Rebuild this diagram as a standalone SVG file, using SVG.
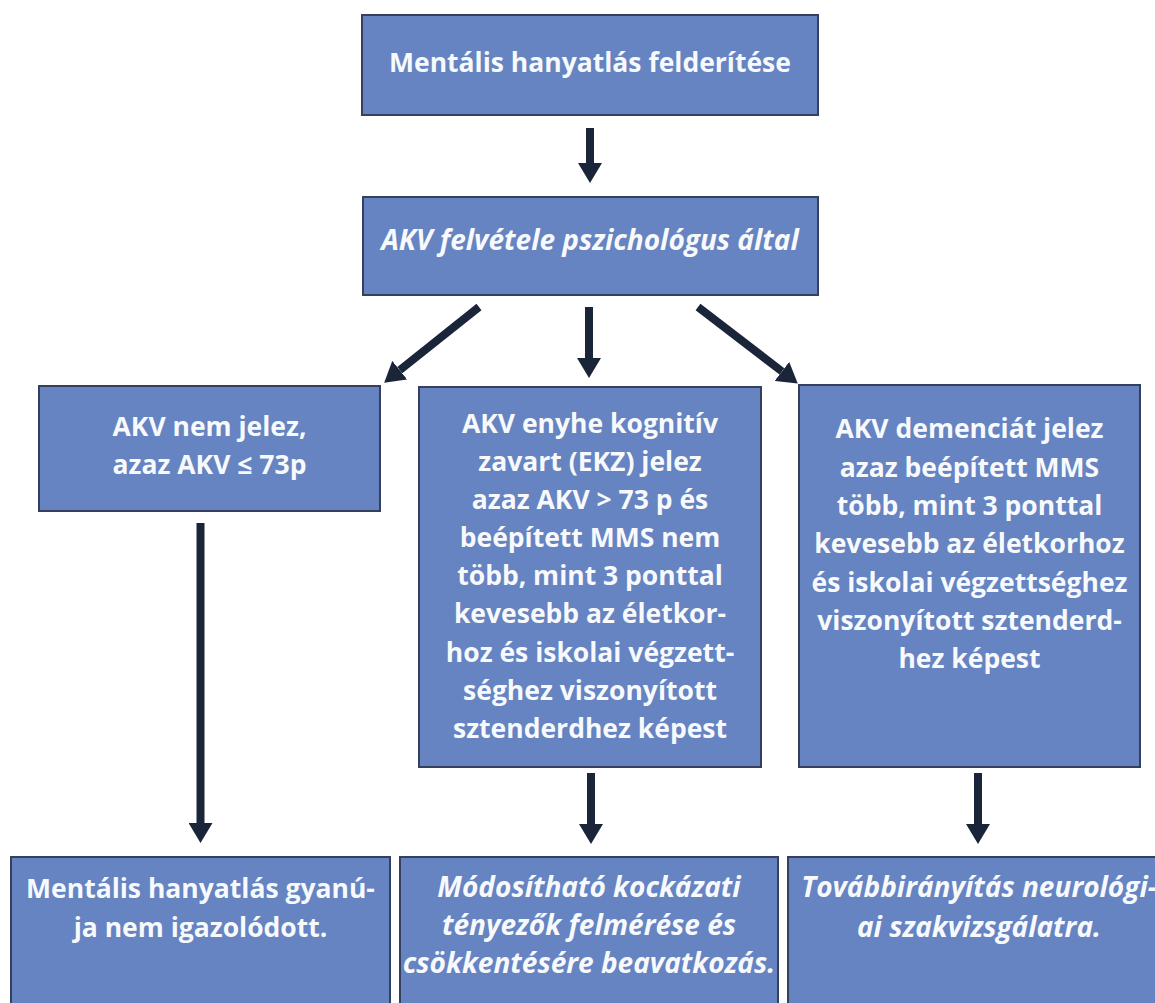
<svg xmlns="http://www.w3.org/2000/svg" width="1155" height="1003" viewBox="0 0 1155 1003">
  <defs>
    <style>
      .box { fill: #6584c1; stroke: #34405c; stroke-width: 2; }
      .lbl { font-family: "Open Sans", "Noto Sans", "Liberation Sans", sans-serif; font-weight: 700; font-size: 26.5px; fill: #f7f9fc; text-anchor: middle; }
      .it { font-style: italic; font-size: 28px; }
      .arr { stroke: #1b2539; stroke-width: 8; fill: none; marker-end: url(#head); }
    </style>
    <marker id="head" markerUnits="userSpaceOnUse" viewBox="0 -12 20 24" markerWidth="20" markerHeight="24" refX="0" refY="0" orient="auto">
      <path d="M0,-12 L20,0 L0,12 Z" fill="#1b2539"/>
    </marker>
  </defs>

  <rect width="1155" height="1003" fill="#ffffff"/>

  <g id="connectors">
    <line class="arr" x1="590" y1="128" x2="590" y2="163"/>
    <line class="arr" x1="479" y1="307" x2="399.8" y2="370.2"/>
    <line class="arr" x1="589" y1="307" x2="589" y2="358"/>
    <line class="arr" x1="698" y1="307" x2="781.9" y2="371.4"/>
    <line class="arr" x1="200.5" y1="523" x2="200.5" y2="823"/>
    <line class="arr" x1="591" y1="773" x2="591" y2="824"/>
    <line class="arr" x1="978" y1="773" x2="978" y2="824"/>
  </g>

  <g id="start">
    <rect class="box" x="362" y="15" width="456" height="100"/>
    <text class="lbl" x="590" y="72">Mentális hanyatlás felderítése</text>
  </g>

  <g id="akv">
    <rect class="box" x="363" y="197" width="455" height="98"/>
    <text class="lbl it" x="590" y="250">AKV felvétele pszichológus által</text>
  </g>

  <g id="normal">
    <rect class="box" x="39" y="386" width="341" height="125"/>
    <text class="lbl" x="209.5" y="436">AKV nem jelez,</text>
    <text class="lbl" x="209.5" y="474">azaz AKV ≤ 73p</text>
  </g>

  <g id="ekz">
    <rect class="box" x="419" y="387" width="342" height="380"/>
    <text class="lbl" x="590" y="433">AKV enyhe kognitív</text>
    <text class="lbl" x="590" y="471">zavart (EKZ) jelez</text>
    <text class="lbl" x="590" y="509">azaz AKV &gt; 73 p és</text>
    <text class="lbl" x="590" y="547">beépített MMS nem</text>
    <text class="lbl" x="590" y="585">több, mint 3 ponttal</text>
    <text class="lbl" x="590" y="623">kevesebb az életkor-</text>
    <text class="lbl" x="590" y="662">hoz és iskolai végzett-</text>
    <text class="lbl" x="590" y="700">séghez viszonyított</text>
    <text class="lbl" x="590" y="738">sztenderdhez képest</text>
  </g>

  <g id="dementia">
    <rect class="box" x="799" y="385" width="341" height="382"/>
    <text class="lbl" x="969.5" y="438">AKV demenciát jelez</text>
    <text class="lbl" x="969.5" y="476.5">azaz beépített MMS</text>
    <text class="lbl" x="969.5" y="515">több, mint 3 ponttal</text>
    <text class="lbl" x="969.5" y="553">kevesebb az életkorhoz</text>
    <text class="lbl" x="969.5" y="592">és iskolai végzettséghez</text>
    <text class="lbl" x="969.5" y="630">viszonyított sztenderd-</text>
    <text class="lbl" x="969.5" y="668">hez képest</text>
  </g>

  <g id="not-confirmed">
    <rect class="box" x="11" y="857" width="379" height="160"/>
    <text class="lbl" x="200.5" y="898">Mentális hanyatlás gyanú-</text>
    <text class="lbl" x="200.5" y="937">ja nem igazolódott.</text>
  </g>

  <g id="risk-factors">
    <rect class="box" x="400" y="857" width="378" height="160"/>
    <text class="lbl it" x="589" y="897">Módosítható kockázati</text>
    <text class="lbl it" x="589" y="935">tényezők felmérése és</text>
    <text class="lbl it" x="589" y="973">csökkentésére beavatkozás.</text>
  </g>

  <g id="referral">
    <rect class="box" x="788" y="857" width="382" height="160"/>
    <text class="lbl it" x="979" y="897">Továbbirányítás neurológi-</text>
    <text class="lbl it" x="979" y="937">ai szakvizsgálatra.</text>
  </g>
</svg>
